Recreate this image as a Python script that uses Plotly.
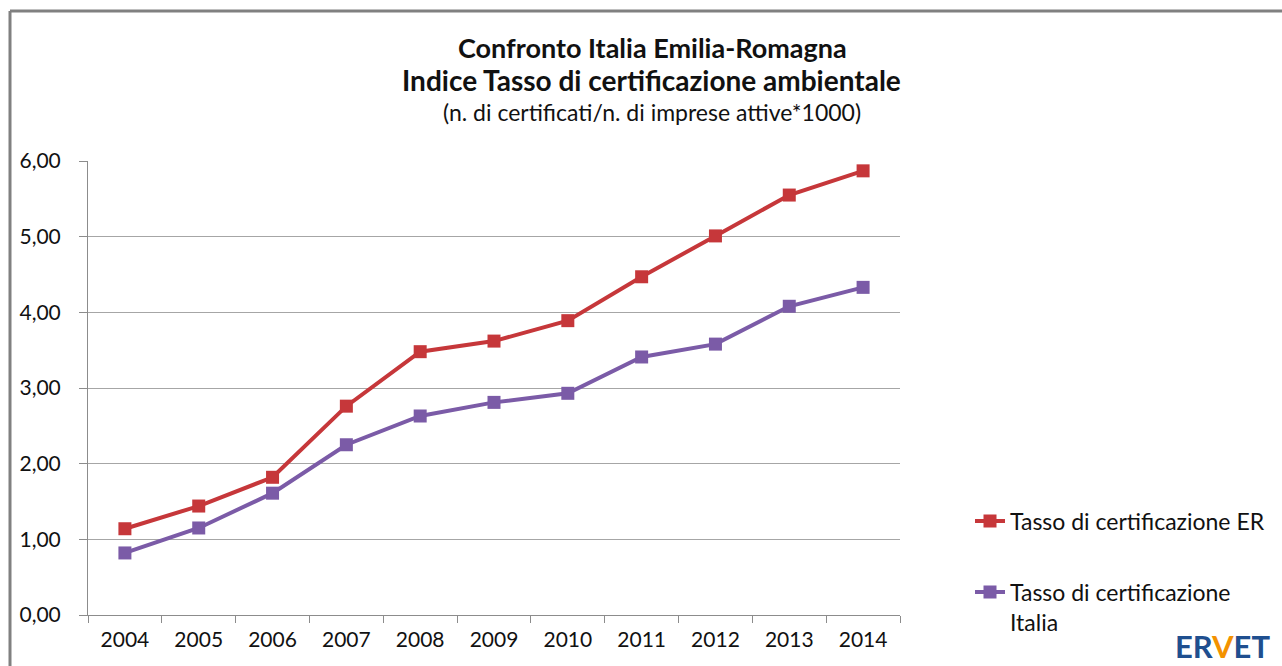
import plotly.graph_objects as go

years = ["2004", "2005", "2006", "2007", "2008", "2009", "2010", "2011", "2012", "2013", "2014"]
er_values = [1.14, 1.44, 1.82, 2.76, 3.48, 3.62, 3.89, 4.47, 5.01, 5.55, 5.87]
italia_values = [0.82, 1.15, 1.61, 2.25, 2.63, 2.81, 2.93, 3.41, 3.58, 4.08, 4.33]
y_ticks = [0, 1, 2, 3, 4, 5, 6]

W, H = 1282, 666
L, R, T, B = 88, 900, 161, 615

def px(x):
    return (x - L) / (R - L)

def py(y):
    return (B - y) / (B - T)

FONT = "Lato, 'Open Sans', sans-serif"
RED = "#C6373A"
PURPLE = "#7B5BA7"
TXT = "#111111"

fig = go.Figure()
fig.add_trace(go.Scatter(
    x=years, y=er_values, mode="lines+markers", name="Tasso di certificazione ER",
    line=dict(color=RED, width=4), marker=dict(symbol="square", size=13, color=RED),
    legend="legend",
))
fig.add_trace(go.Scatter(
    x=years, y=italia_values, mode="lines+markers", name="Tasso di certificazione<br>Italia",
    line=dict(color=PURPLE, width=4), marker=dict(symbol="square", size=13, color=PURPLE),
    legend="legend2",
))

fig.update_layout(
    width=W, height=H,
    margin=dict(l=L, r=W - R, t=T, b=H - B),
    paper_bgcolor="white", plot_bgcolor="white",
    font=dict(family=FONT, color=TXT),
    separators=",.",
    showlegend=True,
    legend=dict(x=px(970), y=py(521), xanchor="left", yanchor="middle", valign="top",
                font=dict(size=23, family=FONT, color=TXT), bgcolor="rgba(0,0,0,0)"),
    legend2=dict(x=px(970), y=py(607), xanchor="left", yanchor="middle", valign="top",
                 font=dict(size=23, family=FONT, color=TXT), bgcolor="rgba(0,0,0,0)"),
    xaxis=dict(
        type="category", tickson="boundaries", ticks="outside", ticklen=7, tickcolor="#8C8C8C",
        showline=True, linecolor="#8C8C8C", linewidth=1, showgrid=False,
        tickfont=dict(size=21, family=FONT, color=TXT), range=[-0.5, 10.5],
        ticklabelstandoff=6,
    ),
    yaxis=dict(
        range=[0, 6], tickvals=y_ticks, tickformat=".2f", ticks="outside", ticklen=8,
        tickcolor="#8C8C8C", showline=True, linecolor="#8C8C8C", linewidth=1,
        showgrid=True, gridcolor="#A6A6A6", gridwidth=1, zeroline=False,
        tickfont=dict(size=21, family=FONT, color=TXT), ticklabelstandoff=14,
    ),
)

annotations = [
    dict(text="<b>Confronto Italia Emilia-Romagna</b>", x=px(652), y=py(47), size=27),
    dict(text="<b>Indice Tasso di certificazione ambientale</b>", x=px(651), y=py(80), size=28),
    dict(text="(n. di certificati/n. di imprese attive*1000)", x=px(652), y=py(112), size=23),
]
for a in annotations:
    fig.add_annotation(text=a["text"], x=a["x"], y=a["y"], xref="paper", yref="paper",
                       xanchor="center", yanchor="middle", showarrow=False,
                       font=dict(size=a["size"], family=FONT, color=TXT))

fig.add_annotation(
    text="<b><span style='color:#1F4F8F'>ER</span><span style='color:#F39200'>V</span><span style='color:#1F4F8F'>ET</span></b>",
    x=px(1222), y=py(646), xref="paper", yref="paper", xanchor="center", yanchor="middle",
    showarrow=False, font=dict(size=31, family=FONT),
)

# outer frame (top and left edges of the original picture)
fig.add_shape(type="line", xref="paper", yref="paper", x0=px(10), x1=px(10), y0=py(700), y1=py(11),
              line=dict(color="#808080", width=3))
fig.add_shape(type="line", xref="paper", yref="paper", x0=px(10), x1=px(1290), y0=py(11), y1=py(11),
              line=dict(color="#808080", width=3))

fig.write_html("out.html", config={"displayModeBar": False},
               post_script="document.body.style.margin='0px';")
